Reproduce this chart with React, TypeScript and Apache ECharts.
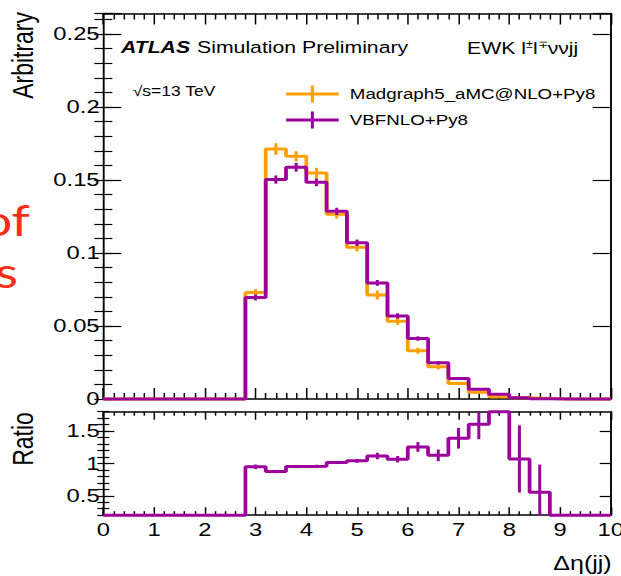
import React, { useEffect, useRef } from "react";
import * as echarts from "echarts";

// ---- data ----
const binEdges = [0, 0.4, 0.8, 1.2, 1.6, 2.0, 2.4, 2.8, 3.2, 3.6, 4.0, 4.4, 4.8, 5.2, 5.6, 6.0, 6.4, 6.8, 7.2, 7.6, 8.0, 8.4, 8.8, 9.2, 9.6, 10.0];
const madgraph = [0, 0, 0, 0, 0, 0, 0, 0.0729, 0.1712, 0.1662, 0.1548, 0.1266, 0.104, 0.0712, 0.0533, 0.033, 0.0221, 0.0107, 0.0046, 0.0016, 0.0008, 0.0004, 0, 0, 0];
const madgraphErr = [0, 0, 0, 0, 0, 0, 0, 0.0025, 0.004, 0.0035, 0.0035, 0.003, 0.003, 0.003, 0.0025, 0.002, 0.0018, 0.0012, 0.0008, 0.0005, 0.0003, 0.0002, 0, 0, 0];
const vbfnlo = [0, 0, 0, 0, 0, 0, 0, 0.0695, 0.1503, 0.1587, 0.1484, 0.1285, 0.107, 0.0795, 0.0569, 0.0414, 0.0248, 0.0141, 0.0066, 0.0032, 0.0009, 0.0002, 0, 0, 0];
const vbfnloErr = [0, 0, 0, 0, 0, 0, 0, 0.002, 0.0028, 0.003, 0.0027, 0.0025, 0.0022, 0.002, 0.0018, 0.0015, 0.0012, 0.0009, 0.0006, 0.0004, 0.0002, 0.0001, 0, 0, 0];
const ratio = [0, 0, 0, 0, 0, 0, 0, 0.948, 0.875, 0.952, 0.955, 1.015, 1.04, 1.115, 1.065, 1.255, 1.125, 1.39, 1.605, 2.0, 1.07, 0.553, 0, 0, 0];
const ratioErr = [0, 0, 0, 0, 0, 0, 0, 0.035, 0.025, 0.025, 0.025, 0.025, 0.03, 0.05, 0.05, 0.075, 0.09, 0.16, 0.23, 0.35, 0.52, 0.43, 0, 0, 0];
const ratioLabelValues = [0.5, 1, 1.5];
const seriesNames = ["Madgraph5_aMC@NLO+Py8", "VBFNLO+Py8"];

// ---- layout / style ----
const W = 497;
const H = 576;
const STRETCH = 621 / W;
const ORANGE = "#ff9f00";
const PURPLE = "#9c009c";
const FONT = "'Liberation Sans', Arial, Helvetica, sans-serif";
const MAIN_MAX = 0.264;
const R_MIN = 0.2;
const R_MAX = 1.8;

function steps(vals: number[], lo: number, hi: number) {
  const pts: number[][] = [];
  vals.forEach((v, i) => {
    const y = Math.min(hi, Math.max(lo, v));
    pts.push([binEdges[i], y]);
    pts.push([binEdges[i + 1], y]);
  });
  return pts;
}

function bars(vals: number[], errs: number[], lo: number, hi: number) {
  const out: number[][] = [];
  vals.forEach((v, i) => {
    if (!errs[i] || v < lo || v > hi) return;
    const c = (binEdges[i] + binEdges[i + 1]) / 2;
    out.push([c, Math.max(lo, v - errs[i]), Math.min(hi, v + errs[i])]);
  });
  return out;
}

const tickLine = { color: "#000", width: 1.2 };

function xAxis(grid: number, pos: string, major: number, minor: number, labels: boolean) {
  return {
    type: "value",
    gridIndex: grid,
    position: pos,
    min: 0,
    max: 10,
    interval: 1,
    axisLine: { show: true, onZero: false, lineStyle: { color: "#000", width: 1.5 } },
    axisTick: { show: true, inside: true, length: major, lineStyle: tickLine },
    minorTick: { show: true, splitNumber: 5, length: minor, lineStyle: tickLine },
    axisLabel: labels
      ? { show: true, fontSize: 19, color: "#000", fontFamily: FONT, margin: 5 }
      : { show: false },
    splitLine: { show: false },
    minorSplitLine: { show: false },
  };
}

function yAxis(grid: number, pos: string, min: number, max: number, extra: any) {
  return {
    type: "value",
    gridIndex: grid,
    position: pos,
    min,
    max,
    axisLine: { show: true, onZero: false, lineStyle: { color: "#000", width: 1.5 } },
    splitLine: { show: false },
    ...extra,
  };
}

const mainLabel = (v: number) =>
  Math.abs(v / 0.05 - Math.round(v / 0.05)) < 1e-6 ? String(+v.toFixed(2)) : "";

function errSeries(name: string, data: number[][], color: string, xi: number, yi: number) {
  return {
    type: "custom",
    name,
    xAxisIndex: xi,
    yAxisIndex: yi,
    data,
    encode: { x: 0, y: [1, 2] },
    z: color === PURPLE ? 4 : 3,
    renderItem: (_p: any, api: any) => {
      const a = api.coord([api.value(0), api.value(1)]);
      const b = api.coord([api.value(0), api.value(2)]);
      return {
        type: "line",
        shape: { x1: a[0], y1: a[1], x2: b[0], y2: b[1] },
        style: { stroke: color, lineWidth: 2.4 },
      };
    },
  };
}

function lineSeries(name: string, data: number[][], color: string, xi: number, yi: number, z: number) {
  return {
    type: "line",
    name,
    xAxisIndex: xi,
    yAxisIndex: yi,
    data,
    showSymbol: false,
    symbol: "none",
    clip: false,
    z,
    color,
    itemStyle: { color, borderWidth: 0 },
    lineStyle: { color, width: 3 },
  };
}

export default function App() {
  const ref = useRef<HTMLDivElement>(null);
  useEffect(() => {
    if (!ref.current) return;
    const chart = echarts.init(ref.current, null, { renderer: "svg", width: W, height: H });
    const option: any = {
      animation: false,
      backgroundColor: "#fff",
      textStyle: { fontFamily: FONT },
      grid: [
        { left: 82.7, top: 13.5, width: 406.1, height: 385.5, containLabel: false, outerBoundsMode: "none" },
        { left: 82.7, top: 411.7, width: 406.1, height: 103.5, containLabel: false, outerBoundsMode: "none" },
      ],
      xAxis: [
        xAxis(0, "bottom", 11, 6, false),
        xAxis(0, "top", 11, 6, false),
        xAxis(1, "bottom", 8, 4, true),
        xAxis(1, "top", 8, 4, false),
      ],
      yAxis: [
        yAxis(0, "left", 0, MAIN_MAX, {
          interval: 0.05,
          axisTick: { show: true, inside: true, length: 14.4, lineStyle: tickLine },
          axisLabel: { show: true, fontSize: 19, color: "#000", fontFamily: FONT, margin: 3, formatter: mainLabel },
        }),
        yAxis(0, "left", 0, MAIN_MAX, {
          interval: 0.01,
          axisLine: { show: false },
          axisTick: { show: true, inside: true, length: 7.2, lineStyle: tickLine },
          axisLabel: { show: false },
        }),
        yAxis(0, "right", 0, MAIN_MAX, {
          interval: 0.05,
          axisTick: { show: true, inside: true, length: 14.4, lineStyle: tickLine },
          axisLabel: { show: false },
        }),
        yAxis(0, "right", 0, MAIN_MAX, {
          interval: 0.01,
          axisLine: { show: false },
          axisTick: { show: true, inside: true, length: 7.2, lineStyle: tickLine },
          axisLabel: { show: false },
        }),
        yAxis(1, "left", R_MIN, R_MAX, {
          axisTick: { show: true, inside: true, length: 8.8, lineStyle: tickLine, customValues: ratioLabelValues },
          axisLabel: { show: true, fontSize: 19, color: "#000", fontFamily: FONT, margin: 3, customValues: ratioLabelValues },
        }),
        yAxis(1, "left", R_MIN, R_MAX, {
          interval: 0.1,
          axisLine: { show: false },
          axisTick: { show: true, inside: true, length: 4.8, lineStyle: tickLine },
          axisLabel: { show: false },
        }),
        yAxis(1, "right", R_MIN, R_MAX, {
          axisTick: { show: true, inside: true, length: 8.8, lineStyle: tickLine, customValues: ratioLabelValues },
          axisLabel: { show: false },
        }),
        yAxis(1, "right", R_MIN, R_MAX, {
          interval: 0.1,
          axisLine: { show: false },
          axisTick: { show: true, inside: true, length: 4.8, lineStyle: tickLine },
          axisLabel: { show: false },
        }),
      ],
      legend: {
        data: seriesNames,
        orient: "vertical",
        left: 224,
        top: 80.5,
        itemWidth: 42,
        itemHeight: 17,
        itemGap: 9,
        icon: "path://M0,7H42V10H0Z M19.8,0H22.2V17H19.8Z",
        itemStyle: { borderWidth: 0 },
        textStyle: { fontSize: 15, color: "#000", fontFamily: FONT, padding: [0, 0, 0, 4] },
        selectedMode: false,
      },
      series: [
        lineSeries(seriesNames[0], steps(madgraph, 0, MAIN_MAX), ORANGE, 0, 0, 2),
        errSeries("mgErr", bars(madgraph, madgraphErr, 0, MAIN_MAX), ORANGE, 0, 0),
        lineSeries(seriesNames[1], steps(vbfnlo, 0, MAIN_MAX), PURPLE, 0, 0, 5),
        errSeries("vbErr", bars(vbfnlo, vbfnloErr, 0, MAIN_MAX), PURPLE, 0, 0),
        lineSeries("Ratio", steps(ratio, R_MIN, R_MAX), PURPLE, 2, 4, 5),
        errSeries("ratioErr", bars(ratio, ratioErr, R_MIN, R_MAX), PURPLE, 2, 4),
      ],
      graphic: [
        {
          type: "text", x: 18.5, y: 12, rotation: Math.PI / 2,
          style: { text: "Arbitrary", fontSize: 23, fontFamily: FONT, fill: "#000", align: "right", verticalAlign: "middle" },
        },
        {
          type: "text", x: 18.5, y: 439, rotation: Math.PI / 2,
          style: { text: "Ratio", fontSize: 23, fontFamily: FONT, fill: "#000", align: "center", verticalAlign: "middle" },
        },
        {
          type: "text", x: 489.5, y: 563,
          style: { text: "Δη(jj)", fontSize: 20, fontFamily: FONT, fill: "#000", align: "right", verticalAlign: "middle" },
        },
        {
          type: "text", x: 96.8, y: 47,
          style: { text: "ATLAS", fontSize: 17, fontWeight: "bold", fontStyle: "italic", fontFamily: FONT, fill: "#000", align: "left", verticalAlign: "middle" },
        },
        {
          type: "text", x: 157.7, y: 47,
          style: { text: "Simulation Preliminary", fontSize: 17, fontFamily: FONT, fill: "#000", align: "left", verticalAlign: "middle" },
        },
        {
          type: "text", x: 373.8, y: 48,
          style: {
            text: "EWK l{s|±}l{s|∓}ννjj", fontSize: 17, fontFamily: FONT, fill: "#000", align: "left", verticalAlign: "middle",
            rich: { s: { fontSize: 10, fontFamily: FONT, fill: "#000", verticalAlign: "top" } },
          },
        },
        {
          type: "text", x: 106.2, y: 90.7,
          style: { text: "√s=13 TeV", fontSize: 14, fontFamily: FONT, fill: "#000", align: "left", verticalAlign: "middle" },
        },
        {
          type: "text", x: 24, y: 220,
          style: { text: "of", fontSize: 42, lineHeight: 44, fontFamily: "Lato, 'Open Sans', sans-serif", fill: "#ff2d14", align: "right", verticalAlign: "middle" },
        },
        {
          type: "text", x: 14.4, y: 272,
          style: { text: "s", fontSize: 42, lineHeight: 44, fontFamily: "Lato, 'Open Sans', sans-serif", fill: "#ff2d14", align: "right", verticalAlign: "middle" },
        },
      ],
    };
    chart.setOption(option);
    return () => chart.dispose();
  }, []);
  return (
    <div
      ref={ref}
      style={{
        position: "absolute",
        left: 0,
        top: 0,
        width: W,
        height: H,
        transform: `scaleX(${STRETCH})`,
        transformOrigin: "0 0",
        background: "#fff",
      }}
    />
  );
}
